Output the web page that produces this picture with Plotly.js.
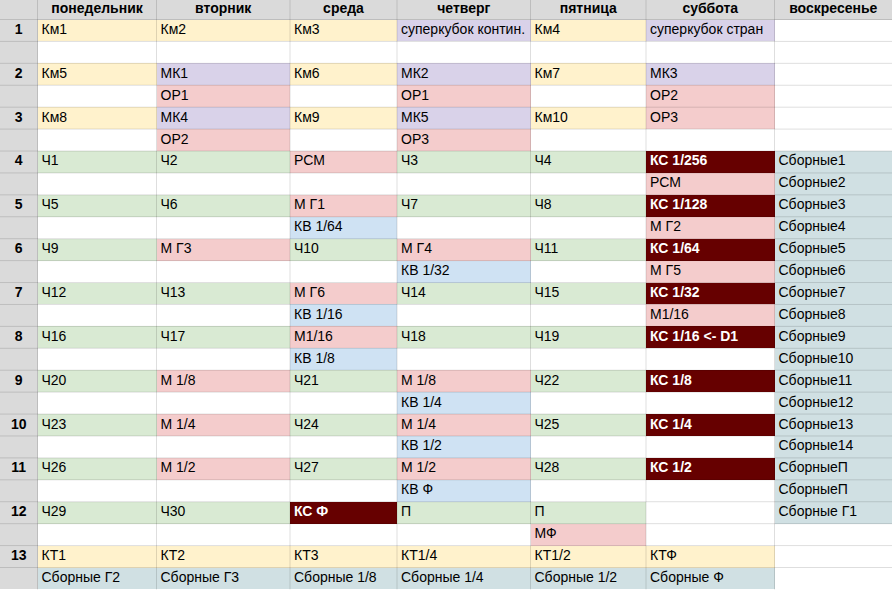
<!DOCTYPE html>
<html>
<head>
<meta charset="utf-8">
<script src="https://cdn.plot.ly/plotly-3.0.1.min.js"></script>
<style>
  html, body { margin: 0; padding: 0; background: #fff; }
  #grafico { width: 892px; height: 590px; }
</style>
</head>
<body>
<div id="grafico"></div>
<script>
// заголовки дней
const days = ["понедельник", "вторник", "среда", "четверг", "пятница", "суббота", "воскресенье"];
const weeks = ["1", "2", "3", "4", "5", "6", "7", "8", "9", "10", "11", "12", "13"];

// по две строки на неделю
const mon = ["Км1", "", "Км5", "", "Км8", "", "Ч1", "", "Ч5", "", "Ч9", "", "Ч12", "", "Ч16", "", "Ч20", "", "Ч23", "", "Ч26", "", "Ч29", "", "КТ1", "Сборные Г2"];
const tue = ["Км2", "", "МК1", "ОР1", "МК4", "ОР2", "Ч2", "", "Ч6", "", "М Г3", "", "Ч13", "", "Ч17", "", "М 1/8", "", "М 1/4", "", "М 1/2", "", "Ч30", "", "КТ2", "Сборные Г3"];
const wed = ["Км3", "", "Км6", "", "Км9", "", "РСМ", "", "М Г1", "КВ 1/64", "Ч10", "", "М Г6", "КВ 1/16", "М1/16", "КВ 1/8", "Ч21", "", "Ч24", "", "Ч27", "", "КС Ф", "", "КТ3", "Сборные 1/8"];
const thu = ["суперкубок контин.", "", "МК2", "ОР1", "МК5", "ОР3", "Ч3", "", "Ч7", "", "М Г4", "КВ 1/32", "Ч14", "", "Ч18", "", "М 1/8", "КВ 1/4", "М 1/4", "КВ 1/2", "М 1/2", "КВ Ф", "П", "", "КТ1/4", "Сборные 1/4"];
const fri = ["Км4", "", "Км7", "", "Км10", "", "Ч4", "", "Ч8", "", "Ч11", "", "Ч15", "", "Ч19", "", "Ч22", "", "Ч25", "", "Ч28", "", "П", "МФ", "КТ1/2", "Сборные 1/2"];
const sat = ["суперкубок стран", "", "МК3", "ОР2", "ОР3", "", "КС 1/256", "РСМ", "КС 1/128", "М Г2", "КС 1/64", "М Г5", "КС 1/32", "М1/16", "КС 1/16 <- D1", "", "КС 1/8", "", "КС 1/4", "", "КС 1/2", "", "", "", "КТФ", "Сборные Ф"];
const sun = ["", "", "", "", "", "", "Сборные1", "Сборные2", "Сборные3", "Сборные4", "Сборные5", "Сборные6", "Сборные7", "Сборные8", "Сборные9", "Сборные10", "Сборные11", "Сборные12", "Сборные13", "Сборные14", "СборныеП", "СборныеП", "Сборные Г1", "", "", ""];

const columns = [mon, tue, wed, thu, fri, sat, sun];

// геометрия листа
const colEdges = [0, 37.5, 156.5, 290, 397, 530.5, 646, 774.5, 892];
const headH = 19.5, rowH = 21.92;
const nRows = mon.length;
const rowEdges = [0, headH];
for (let i = 1; i <= nRows; i++) rowEdges.push(headH + i * rowH);

// цвета по типу турнира
const palette = ["#ffffff", "#dadada", "#fff2cc", "#d9d2e9", "#f4cccc", "#d9ead3", "#cfe2f3", "#660000", "#d0e0e3"];
function kind(t) {
    if (!t) return 0;
    if (t.startsWith("КС")) return 7;
    if (t.startsWith("Сборные")) return 8;
    if (t.startsWith("КВ")) return 6;
    if (t.startsWith("Км") || t.startsWith("КТ")) return 2;
    if (t.startsWith("МК") || t.startsWith("суперкубок")) return 3;
    if (t.startsWith("ОР") || t.startsWith("РСМ") || t.startsWith("М")) return 4;
    return 5; // Ч, П
}

let z = [[1, 1, 1, 1, 1, 1, 1, 1]];
for (let r = 0; r < nRows; r++) {
    let row = [1];
    columns.forEach(c => row.push(kind(c[r])));
    z.push(row);
}

const heat = {
    type: "heatmap",
    x: colEdges,
    y: rowEdges,
    z: z,
    zmin: 0,
    zmax: 8,
    colorscale: palette.map((c, i) => [i / 8, c]),
    showscale: false,
    hoverinfo: "skip"
};

const font = "Liberation Sans, Arial, sans-serif";

// текст ячеек
let tx = [], ty = [], tt = [], tc = [];
columns.forEach((c, ci) => {
    c.forEach((v, r) => {
        if (!v) return;
        const k = kind(v);
        tx.push(colEdges[ci + 1] + 4);
        ty.push(headH + (r + 0.5) * rowH);
        const safe = v.replace(/</g, "&lt;");
        tt.push(k === 7 ? "<b>" + safe + "</b>" : safe);
        tc.push(k === 7 ? "#ffffff" : "#000000");
    });
});

const cellText = {
    type: "scatter",
    mode: "text",
    x: tx, y: ty, text: tt,
    textposition: "middle right",
    textfont: { family: font, size: 14, color: tc },
    hoverinfo: "skip"
};

const headText = {
    type: "scatter",
    mode: "text",
    x: days.map((d, i) => (colEdges[i + 1] + colEdges[i + 2]) / 2),
    y: days.map(() => headH / 2),
    text: days.map(d => "<b>" + d + "</b>"),
    textposition: "middle center",
    textfont: { family: font, size: 14, color: "#000" },
    hoverinfo: "skip"
};

const weekText = {
    type: "scatter",
    mode: "text",
    x: weeks.map(() => colEdges[1] / 2),
    y: weeks.map((w, i) => headH + (2 * i + 0.5) * rowH),
    text: weeks.map(w => "<b>" + w + "</b>"),
    textposition: "middle center",
    textfont: { family: font, size: 14, color: "#000" },
    hoverinfo: "skip"
};

// линии сетки
let shapes = [];
colEdges.slice(1, -1).forEach(x => shapes.push({
    type: "line", x0: x, x1: x, y0: 0, y1: rowEdges[rowEdges.length - 1],
    line: { color: "rgba(0,0,0,0.13)", width: 1 }, layer: "above"
}));
rowEdges.slice(1, -1).forEach(y => shapes.push({
    type: "line", x0: 0, x1: 892, y0: y, y1: y,
    line: { color: "rgba(0,0,0,0.13)", width: 1 }, layer: "above"
}));

const layout = {
    width: 892,
    height: 590,
    margin: { l: 0, r: 0, t: 0, b: 0 },
    paper_bgcolor: "#ffffff",
    plot_bgcolor: "#ffffff",
    showlegend: false,
    xaxis: { range: [0, 892], visible: false, fixedrange: true },
    yaxis: { range: [590, 0], visible: false, fixedrange: true },
    shapes: shapes
};

Plotly.newPlot("grafico", [heat, cellText, headText, weekText], layout, { displayModeBar: false, staticPlot: true });
</script>
</body>
</html>
